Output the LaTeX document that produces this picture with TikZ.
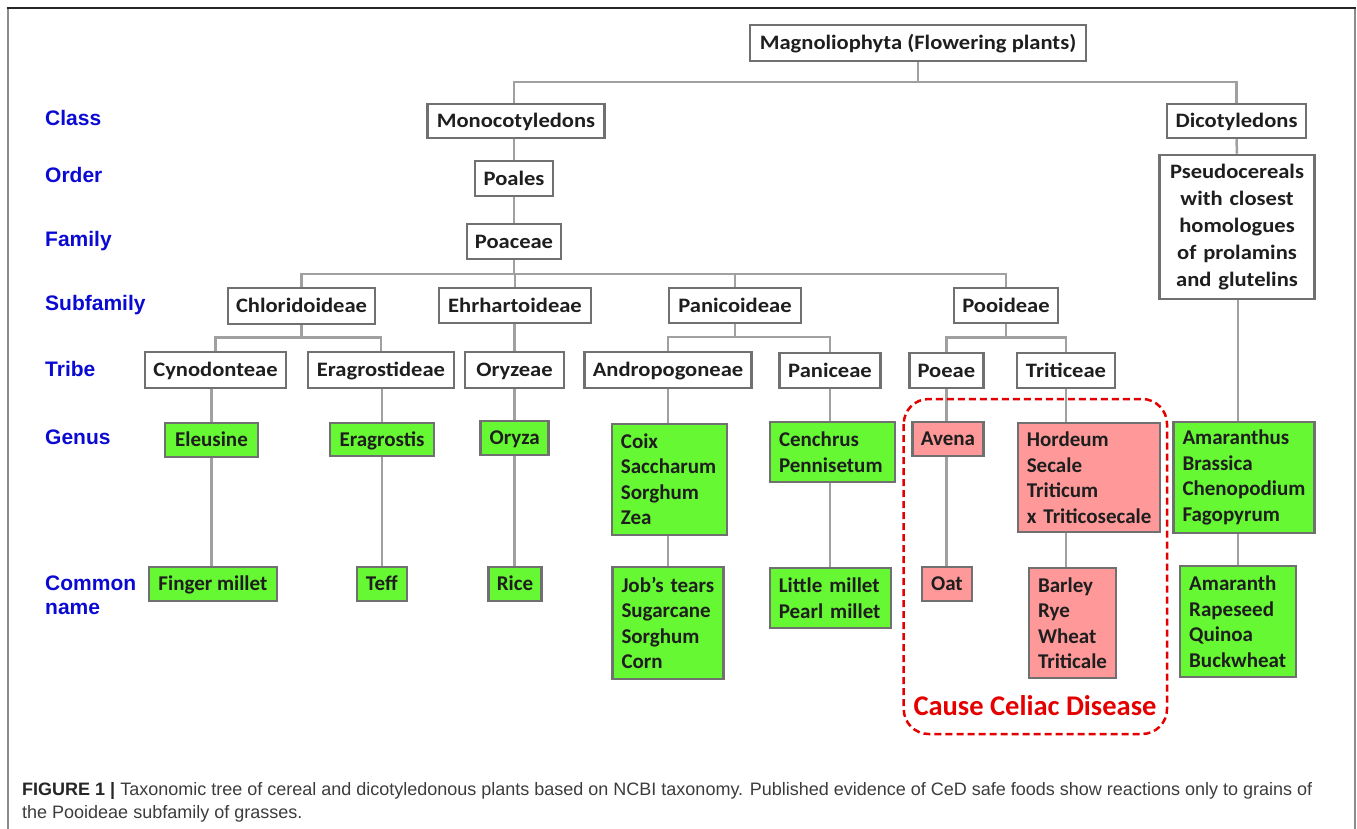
\documentclass[tikz,border=0pt]{standalone}
\usepackage{fontspec}
\setmainfont{Carlito}
\newfontfamily\wfont{Carlito}[FakeStretch=1.1]
\newfontfamily\arialf{Liberation Sans}
\usetikzlibrary{calc}
\pgfdeclarelayer{bg}
\pgfsetlayers{bg,main}
\hyphenpenalty=10000
\exhyphenpenalty=10000
\definecolor{boxgray}{RGB}{112,112,112}
\definecolor{linegray}{RGB}{160,160,160}
\definecolor{gfill}{RGB}{102,248,51}
\definecolor{pfill}{RGB}{255,153,153}
\definecolor{lblue}{RGB}{10,10,210}
\definecolor{cred}{RGB}{228,0,0}
\definecolor{txt}{RGB}{30,30,30}
\definecolor{capgray}{RGB}{60,60,60}
\begin{document}
\begin{tikzpicture}[x=1pt,y=-1pt,
  box/.style={draw=boxgray, line width=2.5pt, inner sep=0pt, text=txt,
    font=\wfont\bfseries\fontsize{20.5}{25}\selectfont, text height=15pt, text depth=1.8pt},
  gbox/.style={box, fill=gfill, font=\bfseries\fontsize{21}{25.5}\selectfont,
    text height=15.5pt, text depth=2pt},
  pbox/.style={gbox, fill=pfill},
  mbox/.style={draw=boxgray, line width=2.5pt, inner xsep=9pt, inner ysep=0pt,
    align=left, text=txt, font=\bfseries\fontsize{21}{25.5}\selectfont},
  conn/.style={draw=linegray, line width=2.5pt},
  lvl/.style={anchor=base west, text=lblue, inner sep=0pt,
    font=\arialf\bfseries\fontsize{21}{24}\selectfont},
]
\useasboundingbox (0,0) rectangle (1357,829);

% frame
\draw[line width=2pt, draw=black!45] (7.5,829) -- (7.5,8);
\draw[line width=2pt, draw=black!45] (1355,8) -- (1355,829);
\draw[line width=2pt, draw=black!85] (6.5,8) -- (1356,8);

% level labels
\node[lvl] (lclass) at (45,126) {Class};
\node[lvl] (lorder) at (45,182.7) {Order};
\node[lvl] (lfamily) at (45,246.7) {Family};
\node[lvl] (lsub) at (45,310.7) {Subfamily};
\node[lvl] (ltribe) at (45,376.7) {Tribe};
\node[lvl] (lgenus) at (45,444.3) {Genus};
\node[lvl] (lcommon) at (45,590) {Common};
\node[lvl] (lname) at (45,614.3) {name};

% top levels
\node[box, minimum width=336, minimum height=36] (mag) at (918,43) {Magnoliophyta (Flowering plants)};
\node[box, minimum width=177, minimum height=34] (mono) at (516,121) {Monocotyledons};
\node[box, minimum width=139, minimum height=34] (dico) at (1236.5,121) {Dicotyledons};
\node[mbox, align=center, text width=137, minimum height=144,
  font=\wfont\bfseries\fontsize{20.5}{27}\selectfont] (pseudo) at (1237,227)
  {Pseudocereals\\with closest\\homologues\\of prolamins\\and glutelins};
\node[box, minimum width=78, minimum height=35] (poales) at (514,178.5) {Poales};
\node[box, minimum width=94, minimum height=35] (poaceae) at (514,241.5) {Poaceae};

% subfamilies
\node[box, minimum width=147, minimum height=36] (chlor) at (301.5,306) {Chloridoideae};
\node[box, minimum width=152, minimum height=35] (ehrh) at (515,305.5) {Ehrhartoideae};
\node[box, minimum width=132, minimum height=35] (panic) at (735,305.5) {Panicoideae};
\node[box, minimum width=104, minimum height=35] (pooid) at (1006,305.5) {Pooideae};

% tribes
\node[box, minimum width=141, minimum height=36] (cyno) at (215.5,370) {Cynodonteae};
\node[box, minimum width=146, minimum height=36] (erag) at (381,370) {Eragrostideae};
\node[box, minimum width=99, minimum height=36] (oryz) at (514.5,370) {Oryzeae};
\node[box, minimum width=167, minimum height=36] (andro) at (668,370) {Andropogoneae};
\node[box, minimum width=101, minimum height=35] (panice) at (830,370.5) {Paniceae};
\node[box, minimum width=74, minimum height=35] (poeae) at (946.4,370.5) {Poeae};
\node[box, minimum width=98, minimum height=35] (tritic) at (1066,370.5) {Triticeae};

% genus
\node[gbox, minimum width=93, minimum height=34] (eleus) at (211.5,440) {Eleusine};
\node[gbox, minimum width=104, minimum height=33] (eragr) at (382,439.5) {Eragrostis};
\node[gbox, minimum width=68, minimum height=34] (oryza) at (514.7,438) {Oryza};
\node[mbox, fill=gfill, text width=97, minimum height=111] (coix) at (669.4,479.4) {Coix\\Saccharum\\Sorghum\\Zea};
\node[mbox, fill=gfill, text width=107, minimum height=60] (cench) at (832.5,452) {Cenchrus\\Pennisetum};
\node[pbox, minimum width=71, minimum height=34] (avena) at (948,438.9) {Avena};
\node[mbox, fill=pfill, text width=124, minimum height=109] (hord) at (1088.8,477.5) {Hordeum\\Secale\\Triticum\\\mbox{x Triticosecale}};
\node[mbox, fill=gfill, text width=123, minimum height=111] (amar) at (1244,477.5) {Amaranthus\\Brassica\\Chenopodium\\Fagopyrum};

% common names
\node[gbox, minimum width=128, minimum height=34] (finger) at (212.9,584) {Finger millet};
\node[gbox, minimum width=50, minimum height=34] (teff) at (381.8,584) {Teff};
\node[gbox, minimum width=53, minimum height=34] (rice) at (515,584) {Rice};
\node[mbox, fill=gfill, text width=93, minimum height=112] (jobs) at (668,623) {\mbox{Job’s tears}\\Sugarcane\\Sorghum\\Corn};
\node[mbox, fill=gfill, text width=103, minimum height=60] (little) at (830.3,598) {\mbox{Little millet}\\\mbox{Pearl millet}};
\node[pbox, minimum width=50, minimum height=34] (oat) at (946.9,584) {Oat};
\node[mbox, fill=pfill, text width=69, minimum height=110] (barley) at (1072.5,623) {Barley\\Rye\\Wheat\\Triticale};
\node[mbox, fill=gfill, text width=98, minimum height=111] (amarth) at (1238.2,621.5) {Amaranth\\Rapeseed\\Quinoa\\Buckwheat};

% connectors
\begin{pgfonlayer}{bg}
\draw[conn] (mag.south) -- ++(0,19.75) -| (poales.north |- mono.north);
\draw[conn] (mag.south) -- ++(0,19.75) -| (dico.north);
\draw[conn] (poales.north |- mono.south) -- (poales.north);
\draw[conn] (poales.south) -- (poaceae.north);
\draw[conn] (poaceae.south) -- ++(0,13.75) -| (chlor.north);
\draw[conn] (poaceae.south) -- ++(0,13.75) -| (ehrh.north);
\draw[conn] (poaceae.south) -- ++(0,13.75) -| (panic.north);
\draw[conn] (poaceae.south) -- ++(0,13.75) -| (pooid.north);
\draw[conn] (chlor.south) -- ++(0,12) -| (cyno.north);
\draw[conn] (chlor.south) -- ++(0,12) -| (erag.north);
\draw[conn] (oryz.north |- ehrh.south) -- (oryz.north);
\draw[conn] (panic.south) -- ++(0,12.5) -| (andro.north);
\draw[conn] (panic.south) -- ++(0,12.5) -| (panice.north);
\draw[conn] (pooid.south) -- ++(0,13) -| (poeae.north);
\draw[conn] (pooid.south) -- ++(0,13) -| (tritic.north);
\draw[conn] (dico.south) -- (pseudo.north);
\draw[conn] (eleus.north |- cyno.south) -- (eleus.north);
\draw[conn] (eleus.south) -- (eleus.south |- finger.north);
\draw[conn] (eragr.north |- erag.south) -- (eragr.north);
\draw[conn] (eragr.south) -- (eragr.south |- teff.north);
\draw[conn] (oryza.north |- oryz.south) -- (oryza.north);
\draw[conn] (oryza.south) -- (oryza.south |- rice.north);
\draw[conn] (andro.south) -- (andro.south |- coix.north);
\draw[conn] (coix.south -| andro.south) -- (andro.south |- jobs.north);
\draw[conn] (panice.south) -- (panice.south |- cench.north);
\draw[conn] (cench.south -| panice.south) -- (panice.south |- little.north);
\draw[conn] (poeae.south) -- (poeae.south |- avena.north);
\draw[conn] (avena.south -| poeae.south) -- (poeae.south |- oat.north);
\draw[conn] (tritic.south) -- (tritic.south |- hord.north);
\draw[conn] (hord.south -| tritic.south) -- (tritic.south |- barley.north);
\draw[conn] (amarth.north |- pseudo.south) -- (amarth.north |- amar.north);
\draw[conn] (amarth.north |- amar.south) -- (amarth.north);
\end{pgfonlayer}

% celiac region
\draw[cred, line width=2.5pt, dash pattern=on 7pt off 4pt, rounded corners=25pt] (903.7,399) rectangle (1167,734);
\node[text=cred, inner sep=0pt, font=\bfseries\fontsize{28.5}{32}\selectfont] (cause) at (1035,706) {Cause Celiac Disease};

% caption
\node[anchor=base west, inner sep=0pt, align=left, text=capgray,
  font=\arialf\fontsize{18}{23}\selectfont] (cap) at (22,818)
  {{\color{black!85}\bfseries FIGURE 1 |} Taxonomic tree of cereal and dicotyledonous plants based on NCBI taxonomy. Published evidence of CeD safe foods show reactions only to grains of\\the Pooideae subfamily of grasses.};
\end{tikzpicture}
\end{document}
